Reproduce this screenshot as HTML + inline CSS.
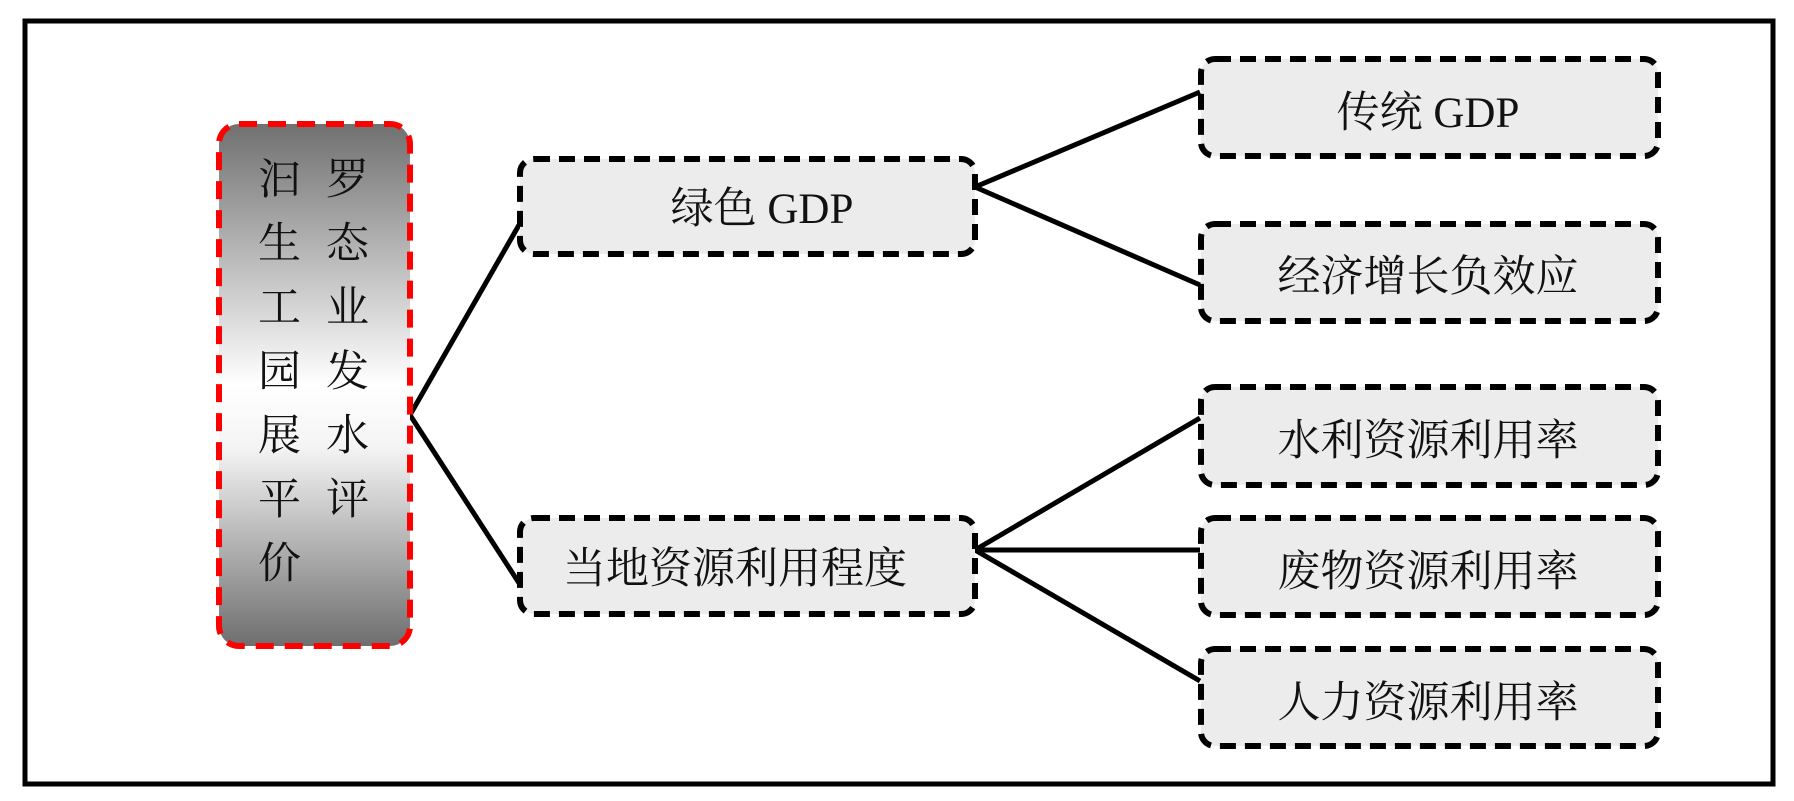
<!DOCTYPE html>
<html><head><meta charset="utf-8"><style>
html,body{margin:0;padding:0;background:#fff;}
svg{display:block;}
text{font-family:"Liberation Serif","Noto Serif CJK SC",serif;font-size:43px;fill:#111;}
</style></head><body>
<svg width="1794" height="801" viewBox="0 0 1794 801" xmlns="http://www.w3.org/2000/svg">
<defs>
<linearGradient id="g" x1="0" y1="0" x2="0" y2="1">
<stop offset="0" stop-color="#707070"/>
<stop offset="0.5" stop-color="#ffffff"/>
<stop offset="0.62" stop-color="#f4f4f4"/>
<stop offset="1" stop-color="#6e6e6e"/>
</linearGradient>
</defs>
<rect x="25" y="21" width="1748" height="763" fill="#fff" stroke="#000" stroke-width="5"/>
<g stroke="#000" stroke-width="5" fill="none">
<line x1="410" y1="415" x2="519" y2="225"/>
<line x1="410" y1="415" x2="519" y2="583"/>
<line x1="975" y1="187" x2="1200" y2="92"/>
<line x1="975" y1="187" x2="1200" y2="285"/>
<line x1="975" y1="550" x2="1200" y2="418"/>
<line x1="975" y1="550" x2="1200" y2="550"/>
<line x1="975" y1="550" x2="1200" y2="681"/>
</g>
<rect x="219" y="124" width="191" height="522" rx="20" fill="url(#g)" stroke="#f00" stroke-width="6" stroke-dasharray="18 11"/>
<g style="font-size:42px">
<text x="258" y="194">汩</text><text x="326" y="194">罗</text>
<text x="258" y="258">生</text><text x="326" y="258">态</text>
<text x="258" y="322">工</text><text x="326" y="322">业</text>
<text x="258" y="386">园</text><text x="326" y="386">发</text>
<text x="258" y="450">展</text><text x="326" y="450">水</text>
<text x="258" y="514">平</text><text x="326" y="514">评</text>
<text x="258" y="578">价</text>
</g>
<g fill="#ececec" stroke="#000" stroke-width="6" stroke-dasharray="16 9">
<rect x="520" y="159" width="455" height="95" rx="14"/>
<rect x="520" y="518" width="455" height="96" rx="14"/>
<rect x="1201" y="59" width="457" height="97" rx="14"/>
<rect x="1201" y="224" width="457" height="97" rx="14"/>
<rect x="1201" y="387" width="457" height="98" rx="14"/>
<rect x="1201" y="518" width="457" height="97" rx="14"/>
<rect x="1201" y="649" width="457" height="97" rx="14"/>
</g>
<g text-anchor="middle">
<text x="762" y="223">绿色 GDP</text>
<text x="735" y="583">当地资源利用程度</text>
<text x="1428" y="127">传统 GDP</text>
<text x="1428" y="291">经济增长负效应</text>
<text x="1428" y="455">水利资源利用率</text>
<text x="1428" y="586">废物资源利用率</text>
<text x="1428" y="717">人力资源利用率</text>
</g>
</svg>
</body></html>
